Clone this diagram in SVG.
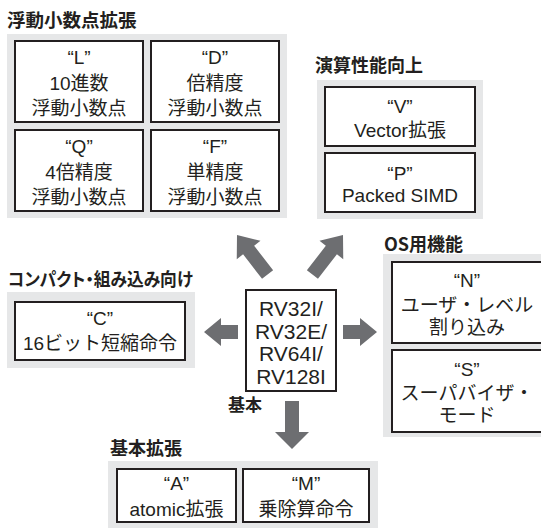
<svg xmlns="http://www.w3.org/2000/svg" width="541" height="528" viewBox="0 0 541 528">
<style>
.bg{fill:#e6e7e8}
.box{fill:#fff;stroke:#231f20;stroke-width:2}
.t{font-family:"Liberation Sans","Noto Sans CJK JP",sans-serif;font-size:19px;fill:#231f20;text-anchor:middle}
.h{font-family:"Noto Sans CJK JP",sans-serif;font-size:18px;font-weight:bold;fill:#231f20;font-feature-settings:"palt"}
.rv{font-family:"Liberation Sans",sans-serif;font-size:21px;fill:#231f20;text-anchor:middle}
.arrow{fill:#6d6e71}
</style>
<rect width="541" height="528" fill="#fff"/>

<g id="grp-fp">
  <text class="h" x="7" y="27" style="font-size:18.5px">浮動小数点拡張</text>
  <rect class="bg" x="7" y="34" width="280" height="184"/>
  <g id="node-L">
    <rect class="box" x="15" y="41" width="128" height="81"/>
    <text class="t" x="79" y="64">“L”</text>
    <text class="t" x="79" y="90">10進数</text>
    <text class="t" x="79" y="115">浮動小数点</text>
  </g>
  <g id="node-D">
    <rect class="box" x="151" y="41" width="128" height="81"/>
    <text class="t" x="215" y="64">“D”</text>
    <text class="t" x="215" y="90">倍精度</text>
    <text class="t" x="215" y="115">浮動小数点</text>
  </g>
  <g id="node-Q">
    <rect class="box" x="15" y="130" width="128" height="81"/>
    <text class="t" x="79" y="153">“Q”</text>
    <text class="t" x="79" y="179">4倍精度</text>
    <text class="t" x="79" y="204">浮動小数点</text>
  </g>
  <g id="node-F">
    <rect class="box" x="151" y="130" width="128" height="81"/>
    <text class="t" x="215" y="153">“F”</text>
    <text class="t" x="215" y="179">単精度</text>
    <text class="t" x="215" y="204">浮動小数点</text>
  </g>
</g>

<g id="grp-perf">
  <text class="h" x="315" y="72">演算性能向上</text>
  <rect class="bg" x="317" y="80" width="166" height="139"/>
  <g id="node-V">
    <rect class="box" x="325" y="87" width="150" height="59"/>
    <text class="t" x="400" y="113">“V”</text>
    <text class="t" x="400" y="137">Vector拡張</text>
  </g>
  <g id="node-P">
    <rect class="box" x="325" y="153" width="150" height="59"/>
    <text class="t" x="400" y="180">“P”</text>
    <text class="t" x="400" y="202">Packed SIMD</text>
  </g>
</g>

<g id="grp-os">
  <text class="h" x="384" y="251">OS用機能</text>
  <rect class="bg" x="383" y="254" width="162" height="183"/>
  <g id="node-N">
    <rect class="box" x="392" y="262" width="150" height="81"/>
    <text class="t" x="467" y="287">“N”</text>
    <text class="t" x="467" y="312">ユーザ・レベル</text>
    <text class="t" x="467" y="334">割り込み</text>
  </g>
  <g id="node-S">
    <rect class="box" x="392" y="350" width="150" height="82"/>
    <text class="t" x="467" y="376">“S”</text>
    <text class="t" x="467" y="400">スーパバイザ・</text>
    <text class="t" x="467" y="422">モード</text>
  </g>
</g>

<g id="grp-compact">
  <text class="h" x="8" y="286" textLength="185" lengthAdjust="spacingAndGlyphs">コンパクト・組み込み向け</text>
  <rect class="bg" x="7" y="292" width="188" height="76"/>
  <g id="node-C">
    <rect class="box" x="15" y="302" width="170" height="58"/>
    <text class="t" x="100" y="325">“C”</text>
    <text class="t" x="100" y="350">16ビット短縮命令</text>
  </g>
</g>

<g id="node-base">
  <rect class="box" x="246" y="290" width="90" height="101"/>
  <text class="rv" x="291" y="316">RV32I/</text>
  <text class="rv" x="291" y="338.5">RV32E/</text>
  <text class="rv" x="291" y="361">RV64I/</text>
  <text class="rv" x="291" y="383.5">RV128I</text>
  <text class="h" x="228" y="411" style="font-size:17px">基本</text>
</g>

<g id="grp-basicext">
  <text class="h" x="110" y="455">基本拡張</text>
  <rect class="bg" x="108" y="461" width="270" height="70"/>
  <g id="node-A">
    <rect class="box" x="117" y="469" width="119" height="53"/>
    <text class="t" x="176.5" y="490">“A”</text>
    <text class="t" x="176.5" y="516">atomic拡張</text>
  </g>
  <g id="node-M">
    <rect class="box" x="243" y="469" width="126" height="53"/>
    <text class="t" x="306" y="490">“M”</text>
    <text class="t" x="306" y="516">乗除算命令</text>
  </g>
</g>

<g id="connectors" class="arrow">
  <polygon points="0,0 15,19 7,19 7,50 -7,50 -7,19 -15,19" transform="translate(237,235) rotate(-37.7)"/>
  <polygon points="0,0 15,19 7,19 7,50 -7,50 -7,19 -15,19" transform="translate(343,235) rotate(37.7)"/>
  <polygon points="204,332 221,318 221,325 238,325 238,339 221,339 221,346"/>
  <polygon points="377,332 360,318 360,325 343,325 343,339 360,339 360,346"/>
  <polygon points="292,449 275,432 285,432 285,401 299,401 299,432 309,432"/>
</g>
</svg>
